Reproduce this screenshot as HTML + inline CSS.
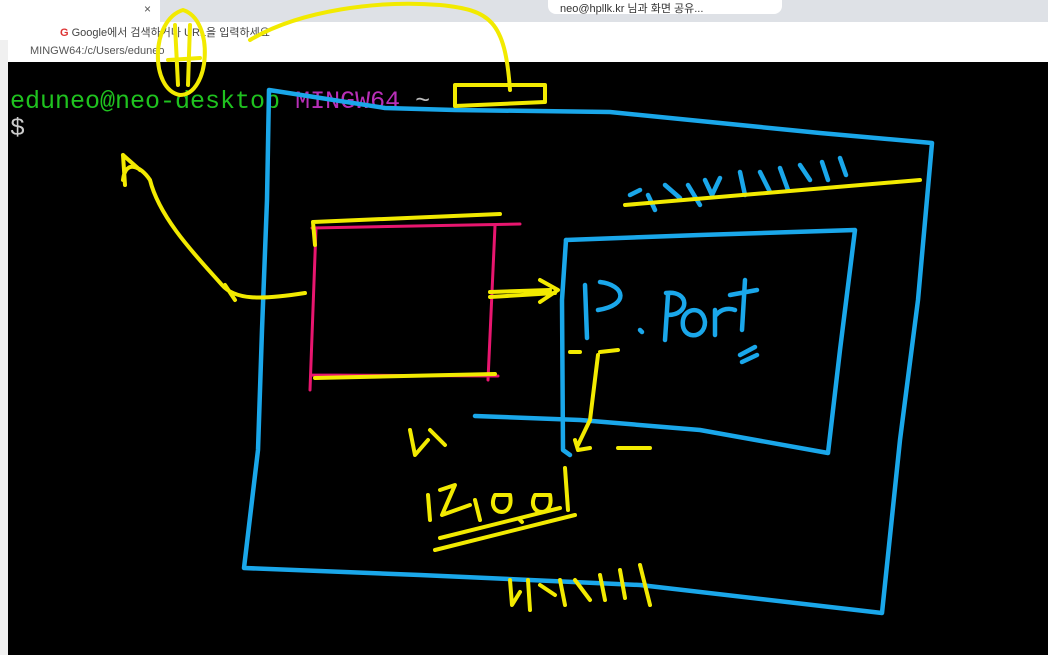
<!DOCTYPE html>
<html><head><meta charset="utf-8"><style>
body{margin:0;width:1048px;height:655px;overflow:hidden;background:#000;position:relative;font-family:"Liberation Sans","Noto Sans CJK KR",sans-serif}
.top{position:absolute;left:0;top:0;width:1048px;height:22px;background:#dee1e6}
.tab{position:absolute;left:0;top:0;width:160px;height:22px;background:#fff}
.addr{position:absolute;left:0;top:22px;width:1048px;height:18px;background:#fff;font-size:11px;color:#444}
.pill{position:absolute;left:548px;top:0;width:222px;height:14px;background:#fff;border-radius:0 0 8px 8px;font-size:11px;color:#333;padding-left:12px}
.title{position:absolute;left:8px;top:40px;width:1040px;height:22px;background:#fff;font-size:11px;color:#555;line-height:22px;padding-left:22px;box-sizing:border-box}
.lstrip{position:absolute;left:0;top:40px;width:8px;height:615px;background:#f0f0f0}
.term{position:absolute;left:8px;top:62px;width:1040px;height:593px;background:#000;font-family:"Liberation Mono",monospace;font-size:25px}
svg{position:absolute;left:0;top:0}
</style></head><body>
<div class="top"><div class="tab"><span style="position:absolute;left:144px;top:2px;font-size:12px;color:#555">×</span></div></div>
<div class="addr"><span style="position:absolute;left:60px;top:2px"><b style="color:#d33">G</b> Google에서 검색하거나 URL을 입력하세요</span></div>
<div class="pill">neo@hpllk.kr 님과 화면 공유...</div>
<div class="lstrip"></div>
<div class="title">MINGW64:/c/Users/eduneo</div>
<div class="term">
<div style="position:absolute;left:2px;top:25px;white-space:pre"><span style="color:#1fc21f">eduneo@neo-desktop</span> <span style="color:#b82fb8">MINGW64</span> <span style="color:#bbb">~</span></div>
<div style="position:absolute;left:2px;top:52px;color:#ccc">$</div>
</div>
<svg width="1048" height="655" fill="none" stroke-linecap="round" stroke-linejoin="round">
<g stroke="#1aa7ea" stroke-width="4.5">
<path d="M269 90 L267 200 L262 330 L258 450 L244 568 L420 575 L640 585 L882 613 L900 440 L918 300 L932 143 L820 133 L610 112 L455 110 L385 108 L269 90"/>
<path d="M566 240 L562 300 L563 450 L570 455"/>
<path d="M566 240 L700 235 L855 230 L840 350 L828 453 L700 430 L580 420 L475 416"/>
<path d="M585 285 L587 338 M600 282 C625 285 630 305 598 310 M668 295 L665 340 M666 293 C690 290 690 315 668 315 M683 320 C680 340 705 340 705 322 C703 305 685 308 683 320 M715 310 L715 335 M716 315 C722 308 730 308 735 310 M745 280 L742 330 M730 295 L757 290 M640 330 L642 332 M740 355 L755 347 M742 362 L757 355"/>
<path d="M630 195 L640 190 M648 195 L655 210 M665 185 L680 198 M688 185 L700 205 M705 180 L712 195 L720 178 M740 172 L745 195 M760 172 L770 192 M780 168 L788 190 M800 165 L810 180 M822 162 L828 180 M840 158 L846 175"/>
</g>
<g stroke="#e8166f" stroke-width="3">
<path d="M312 228 L520 224 M316 228 L310 390 M495 226 L488 380 M312 375 L498 376"/>
</g>
<g stroke="#f2ea00" stroke-width="4">
<path d="M183 10 C150 20 150 90 180 95 C210 95 215 20 183 10 Z M175 25 L178 85 M190 25 L188 85 M168 60 L200 58"/>
<path d="M250 40 C300 10 380 0 440 5 C490 10 505 20 510 90 M455 85 L545 85 L545 102 L455 106 Z"/>
<path d="M315 245 L313 222 L500 214 M315 378 L495 374"/>
<path d="M305 293 C260 300 235 300 222 285 C200 260 160 220 150 180 C140 165 125 160 123 180 M123 155 L125 185 M123 155 L140 170 M225 285 L235 300"/>
<path d="M490 292 L550 290 M490 297 L555 293 M540 280 L558 290 L540 302"/>
<path d="M570 352 L580 352 M600 352 L618 350 M598 355 L590 420 L578 445 M575 440 L578 450 L590 448 M618 448 L650 448"/>
<path d="M410 430 L415 455 L428 440 M430 430 L445 445"/>
<path d="M428 495 L430 520 M440 490 L455 485 L442 515 L470 505 M475 500 L480 520 M495 495 C485 515 515 520 510 495 Z M520 520 L522 522 M535 495 C525 515 555 520 550 495 Z M565 468 L568 510 M435 550 L575 515 M440 538 L560 508"/>
<path d="M510 580 L512 605 L520 592 M528 580 L530 610 M540 585 L555 595 M560 580 L565 605 M575 580 L590 600 M600 575 L605 600 M620 570 L625 598 M640 565 L650 605"/>
<path d="M625 205 L920 180"/>
</g>
</svg>
</body></html>
